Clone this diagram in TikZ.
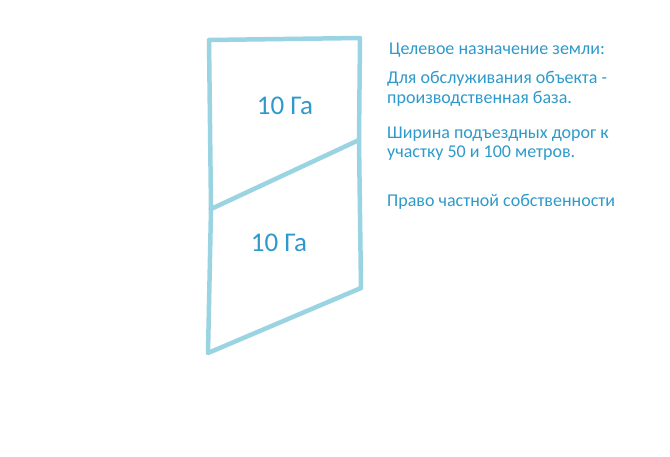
\documentclass[tikz,border=0pt]{standalone}
\usepackage{fontspec}
\setmainfont{Carlito}
\definecolor{plotline}{HTML}{9AD4E2}
\definecolor{plottext}{HTML}{2E9ACB}
\begin{document}
\begin{tikzpicture}[x=1pt,y=-1pt,
  plotedge/.style={draw=plotline,line width=4.5pt,line cap=round,line join=round},
  arealabel/.style={text=plottext,font=\fontsize{27}{30}\selectfont,inner sep=0pt},
  infoline/.style={text=plottext,font=\fontsize{18}{20}\selectfont,anchor=base west,inner sep=0pt}]
\useasboundingbox[fill=white] (0,0) rectangle (670,457);
\coordinate (tl) at (209,40);
\coordinate (tr) at (360,38);
\coordinate (ml) at (211,209);
\coordinate (mr) at (359,140);
\coordinate (br) at (361,288);
\coordinate (bl) at (208,353);
\draw[plotedge] (ml) -- (tl) -- (tr) -- (mr) -- (br);
\draw[plotedge] (ml) -- (bl) -- (br);
\draw[plotedge] (ml) -- (mr);
\node[arealabel] (a1) at (285,106) {10 Га};
\node[arealabel] (a2) at (279,243) {10 Га};
\node[infoline] (t1) at (389,55) {Целевое назначение земли:};
\node[infoline] (t2) at (387,84) {Для обслуживания объекта -};
\node[infoline] (t3) at (387,104) {производственная база.};
\node[infoline] (t4) at (387,139) {Ширина подъездных дорог к};
\node[infoline] (t5) at (387,158) {участку 50 и 100 метров.};
\node[infoline] (t6) at (387,207) {Право частной собственности};
\end{tikzpicture}
\end{document}
